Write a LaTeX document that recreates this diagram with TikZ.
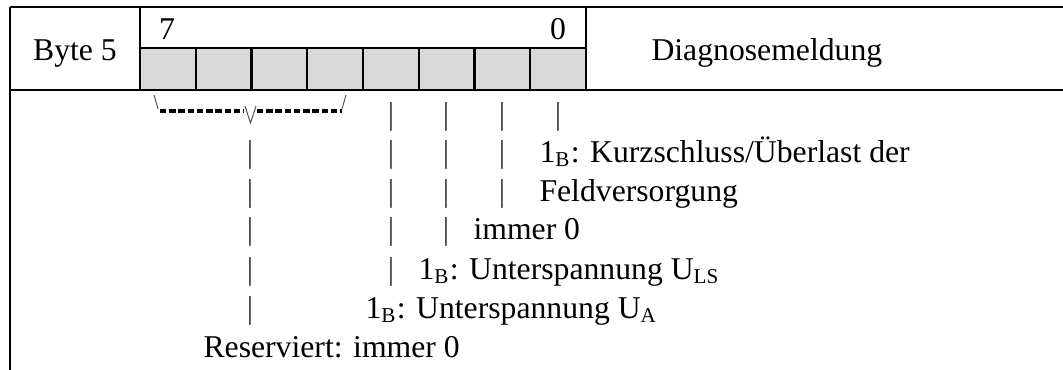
\documentclass[tikz,border=0pt]{standalone}
\usepackage{fontspec}
\setmainfont{Liberation Serif}
\tikzset{
  tabline/.style = {line width=0.76pt},
  bitcell/.style = {draw, line width=0.76pt, fill=black!15},
  txt/.style  = {anchor=base west, inner sep=0pt, font=\fontsize{12}{14}\selectfont},
  hd/.style   = {anchor=base, inner sep=0pt, font=\fontsize{12}{14}\selectfont},
  pipe/.style = {anchor=base, inner sep=0pt, font=\fontsize{12}{14}\selectfont, text=black!80},
  thin/.style = {line width=0.35pt, black!70},
  dashrow/.style = {line width=1.15pt, dash pattern=on 2.4pt off 1.1pt}
}

\begin{document}
\begin{tikzpicture}[x=0.3785pt, y=-0.3785pt]
\useasboundingbox (0,0) rectangle (1063,370);
% table row
\foreach \i in {0,...,7}
  \draw[bitcell] ({140+\i*55.75},48) rectangle ({140+(\i+1)*55.75},90);
\draw[tabline] (10,7) -- (1063,7);
\draw[tabline] (10,90) -- (1063,90);
\draw[tabline] (10,7) -- (10,370);
\draw[tabline] (140,7) -- (140,90);
\draw[tabline] (586,7) -- (586,90);
\node[hd] (byte) at (75,61) {Byte 5};
\node[hd] (msb) at (167,40) {7};
\node[hd] (lsb) at (558,40) {0};
\node[txt] (desc) at (651,61) {Diagnosemeldung};

% group bits 7..4
\draw[thin] (154,95) -- (158,109);
\draw[thin] (346,95) -- (342,109);
\draw[dashrow] (160,111) -- (244,111);
\draw[dashrow] (257,111) -- (342,111);
\draw[thin] (245,106) -- (250.5,123) -- (256,106);

% pipes, one row after the other
\foreach \x in {391,446,502,558} \node[pipe] (a\x) at (\x,124) {|};
\foreach \x in {250,391,446,502} \node[pipe] (b\x) at (\x,162) {|};
\foreach \x in {250,391,446,502} \node[pipe] (c\x) at (\x,201) {|};
\foreach \x in {250,391,446} \node[pipe] (d\x) at (\x,240) {|};
\foreach \x in {250,391} \node[pipe] (e\x) at (\x,279) {|};
\node[pipe] (f250) at (250,318) {|};

% bit meanings
\node[txt] (kurz) at (539,162) {1\textsubscript{B}: Kurzschluss/Überlast der};
\node[txt] (feld) at (539,201) {Feldversorgung};
\node[txt] (null) at (473,240) {immer 0};
\node[txt] (uls)  at (418,279) {1\textsubscript{B}: Unterspannung U\textsubscript{LS}};
\node[txt] (ua)   at (365,318) {1\textsubscript{B}: Unterspannung U\textsubscript{A}};
\node[txt] (res)  at (203,357) {Reserviert: immer 0};
\end{tikzpicture}
\end{document}
